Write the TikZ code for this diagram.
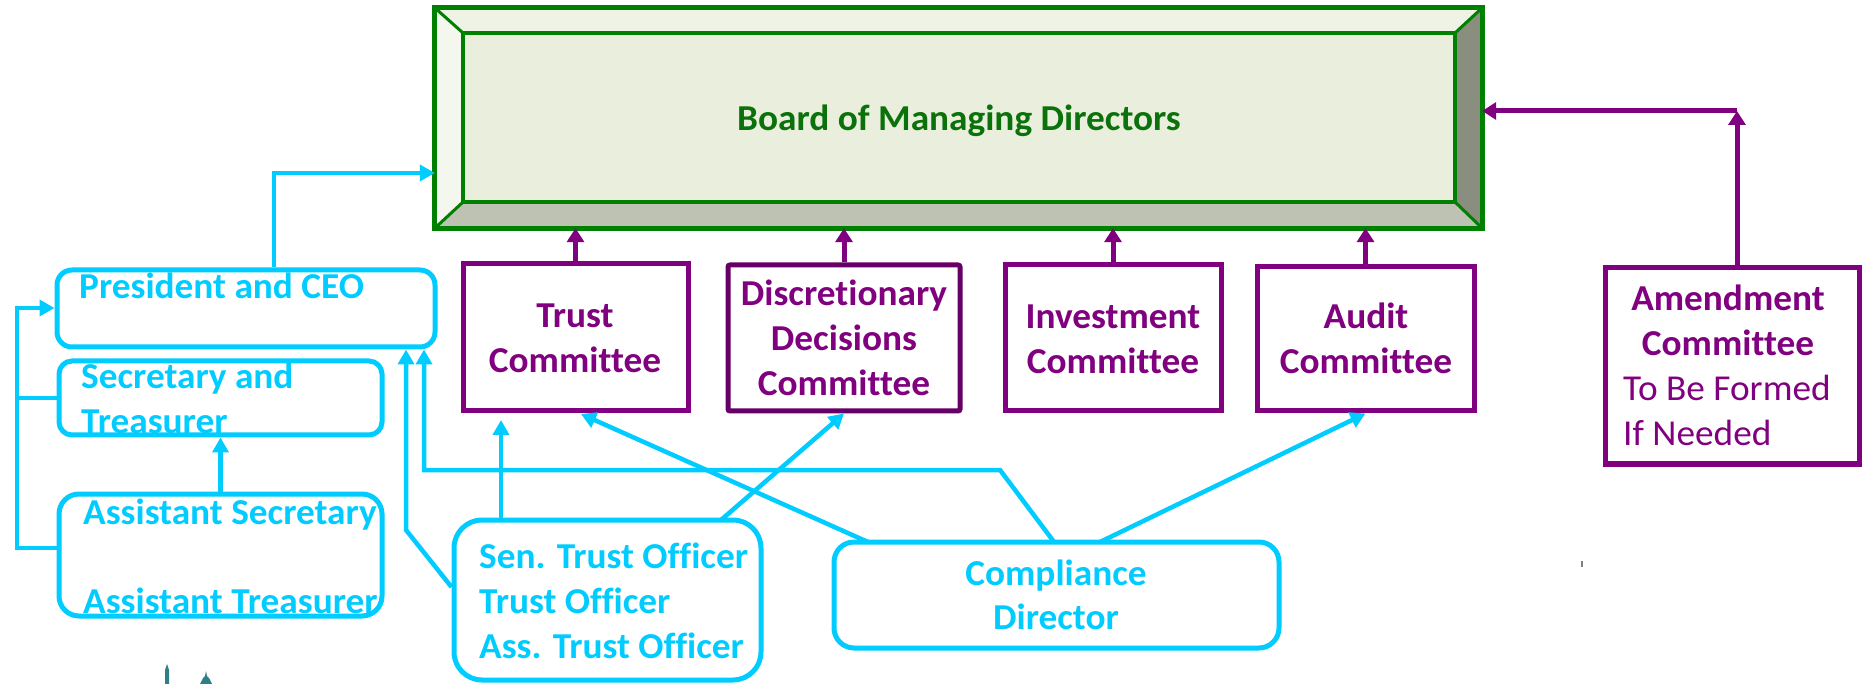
\documentclass[tikz,border=0pt]{standalone}
\usepackage{fontspec}
\setmainfont{Carlito}[FakeStretch=1.022,Ligatures=NoCommon]
\usetikzlibrary{arrows.meta,calc}
\definecolor{cy}{HTML}{00CCFF}
\definecolor{pu}{HTML}{800080}
\definecolor{pud}{HTML}{660066}
\definecolor{gr}{HTML}{008000}
\definecolor{grt}{HTML}{0B720B}
\definecolor{bvlight}{HTML}{EFF3E6}
\definecolor{bvin}{HTML}{EAEEDC}
\definecolor{bvbot}{HTML}{BEC2B2}
\definecolor{bvright}{HTML}{8A8E7E}
\definecolor{spire}{HTML}{2F7F86}
\begin{document}
\begin{tikzpicture}[x=1pt,y=-1pt,
  pbox/.style={draw=pu, line width=5pt, inner sep=0pt},
  cbox/.style={draw=cy, line width=5pt, inner sep=0pt},
  parrow/.style={draw=pu, line width=5pt, -{Triangle[length=14pt,width=17pt]}},
  carrow/.style={draw=cy, line width=4.5pt, -{Triangle[length=15pt,width=16pt]}},
  cline/.style={draw=cy, line width=4.5pt},
  ptxt/.style={text=pu, font={\fontsize{36.5}{45}\selectfont\bfseries}, inner sep=0pt, anchor=base},
  prtxt/.style={text=pu, font={\fontsize{36.5}{45}\selectfont}, inner sep=0pt, anchor=base west},
  ctxt/.style={text=cy, font={\fontsize{36.5}{45}\selectfont\bfseries}, inner sep=0pt, anchor=base west},
  cctxt/.style={text=cy, font={\fontsize{36.5}{45}\selectfont\bfseries}, inner sep=0pt, anchor=base},
  gtxt/.style={text=grt, font={\fontsize{36.5}{45}\selectfont\bfseries}, inner sep=0pt, anchor=base}]
\fill[white] (0,0) rectangle (1872,684);
\useasboundingbox (0,0) rectangle (1872,684);

% Board with bevel
\node[minimum width=1047pt, minimum height=220pt, inner sep=0pt] (board) at (958.5,118) {};
\coordinate (O1) at (board.north west);
\coordinate (O2) at (board.north east);
\coordinate (O3) at (board.south east);
\coordinate (O4) at (board.south west);
\coordinate (I1) at ($(board.north west)+(28,25)$);
\coordinate (I2) at ($(board.north east)+(-27,25)$);
\coordinate (I3) at ($(board.south east)+(-27,-26)$);
\coordinate (I4) at ($(board.south west)+(28,-26)$);
\fill[bvlight] (O1) -- (O2) -- (I2) -- (I1) -- cycle;
\fill[bvlight!70!white] (O1) -- (I1) -- (I4) -- (O4) -- cycle;
\fill[bvbot] (O4) -- (I4) -- (I3) -- (O3) -- cycle;
\fill[bvright] (O2) -- (O3) -- (I3) -- (I2) -- cycle;
\fill[bvin] (I1) rectangle (I3);
\draw[gr, line width=4pt] (I1) rectangle (I3);
\draw[gr, line width=3pt] (O1) -- (I1) (O2) -- (I2) (O3) -- (I3) (O4) -- (I4);
\draw[gr, line width=5pt] (O1) rectangle (O3);
\node[gtxt] (boardt) at (959,131) {Board of Managing Directors};

% Committees
\node[pbox, minimum width=225pt, minimum height=147pt] (trust) at (575.5,337.5) {};
\node[pbox, draw=pud, rounded corners=2pt, minimum width=232pt, minimum height=146pt] (disc) at (844,338) {};
\node[pbox, minimum width=216pt, minimum height=146pt] (invest) at (1113,338) {};
\node[pbox, minimum width=217pt, minimum height=144pt] (audit) at (1365.5,339) {};
\node[pbox, minimum width=254pt, minimum height=196pt] (amend) at (1732,366) {};

\node[ptxt] (trust1) at (575,328) {Trust};
\node[ptxt] (trust2) at (575,373) {Committee};
\node[ptxt] (disc1) at (844,306) {Discretionary};
\node[ptxt] (disc2) at (844,351) {Decisions};
\node[ptxt] (disc3) at (844,396) {Committee};
\node[ptxt] (inv1) at (1113,329) {Investment};
\node[ptxt] (inv2) at (1113,374) {Committee};
\node[ptxt] (aud1) at (1366,329) {Audit};
\node[ptxt] (aud2) at (1366,374) {Committee};
\node[ptxt] (am1) at (1728,311) {Amendment};
\node[ptxt] (am2) at (1728,356) {Committee};
\node[prtxt] (am3) at (1623,401) {To Be Formed};
\node[prtxt] (am4) at (1623,446) {If Needed};

% Left cyan boxes
\node[cbox, rounded corners=15pt, minimum width=378pt, minimum height=77pt] (pres) at (246,308.5) {};
\node[cbox, rounded corners=13pt, minimum width=323pt, minimum height=74pt] (sec) at (220.5,398) {};
\node[cbox, rounded corners=20pt, minimum width=323pt, minimum height=122pt] (assist) at (220.5,555) {};
\node[cbox, rounded corners=28pt, minimum width=307pt, minimum height=160pt] (sentrust) at (607.5,600) {};
\node[cbox, rounded corners=20pt, minimum width=445pt, minimum height=106pt] (comp) at (1056.5,595) {};

\node[ctxt] (prest) at (79,299) {President and CEO};
\node[ctxt] (sec1) at (81,389) {Secretary and};
\node[ctxt] (sec2) at (81,434) {Treasurer};
\node[ctxt] (as1) at (83,524) {Assistant Secretary};
\node[ctxt] (as2) at (83,613) {Assistant Treasurer};
\node[ctxt] (st1) at (479,568) {Sen. Trust Officer};
\node[ctxt] (st2) at (479,613) {Trust Officer};
\node[ctxt] (st3) at (479,658) {Ass. Trust Officer};
\node[cctxt] (cp1) at (1056,585) {Compliance};
\node[cctxt] (cp2) at (1056,629) {Director};

% Purple connectors
\draw[parrow] (trust.north) -- (trust.north |- board.south);
\draw[parrow] (disc.north) -- (disc.north |- board.south);
\draw[parrow] (invest.north) -- (invest.north |- board.south);
\draw[parrow] (audit.north) -- (audit.north |- board.south);
\coordinate (acorner) at (1737,111);
\draw[parrow] (amend.north -| acorner) -- (acorner);
\draw[parrow] (acorner) -- (acorner -| board.east);

% Cyan connectors
\coordinate (lbus) at (17,308);
\coordinate (abr) at (17,548);
\draw[carrow] (abr -| assist.west) -- (abr) -- (lbus) -- (lbus -| pres.west);
\draw[cline] (sec.west) -- (sec.west -| lbus);
\draw[carrow] (assist.north) -- (sec.south);
\coordinate (ptop) at (274,173);
\draw[carrow] (ptop |- pres.north) -- (ptop) -- (ptop -| board.west);
\coordinate (k1) at (406,530);
\draw[carrow] ($(sentrust.west)+(0,-13)$) -- (k1) -- (k1 |- pres.south);
\coordinate (st) at (501,420);
\draw[carrow] (st |- sentrust.north) -- (st);
\draw[carrow] (721,520) -- (disc.south);
\coordinate (ctr) at (581,414);
\draw[carrow] (868,542) -- (ctr);
\coordinate (k2) at (1000,470);
\coordinate (k3) at (424,470);
\draw[carrow] (1054,542) -- (k2) -- (k3) -- (k3 |- pres.south);
\draw[carrow] (1100,542) -- (audit.south);

% small artifacts
\fill[spire] (165,684) -- (165,670) -- (167,664) -- (169,670) -- (169,684) -- cycle;
\fill[spire] (200,684) -- (203,678) -- (205,676) -- (206,671) -- (207,676) -- (209,678) -- (212,684) -- cycle;
\fill[gray] (1581,561) rectangle (1583,567);
\end{tikzpicture}
\end{document}
